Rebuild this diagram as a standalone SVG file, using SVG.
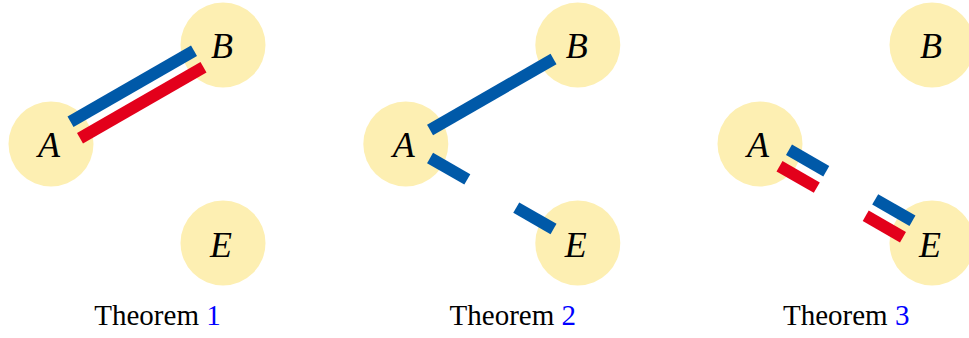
<svg xmlns="http://www.w3.org/2000/svg" width="969" height="338" viewBox="0 0 969 338">
<style>
.node circle{fill:#FDEFB2;stroke:none}
.node text{font-family:"Liberation Serif","Times New Roman",serif;font-style:italic;font-size:36px;fill:#000;text-anchor:middle}
.blue{stroke:#0059A8;stroke-width:12;stroke-linecap:butt;fill:none}
.red{stroke:#E3001B;stroke-width:12;stroke-linecap:butt;fill:none}
.cap{font-family:"Liberation Serif","Times New Roman",serif;font-size:29px;fill:#000;text-anchor:middle}
.num{fill:#0000FF}
</style>
<rect width="969" height="338" fill="#fff"/>
<g id="p1-A" class="node"><circle cx="51" cy="144" r="42.5"/><text x="49" y="157">A</text></g>
<g id="p1-B" class="node"><circle cx="223" cy="45" r="42.5"/><text x="222" y="58">B</text></g>
<g id="p1-E" class="node"><circle cx="223" cy="243" r="42.5"/><text x="221" y="257">E</text></g>
<g id="p2-A" class="node"><circle cx="405.8" cy="144" r="42.5"/><text x="403.8" y="157">A</text></g>
<g id="p2-B" class="node"><circle cx="577.8" cy="45" r="42.5"/><text x="576.8" y="58">B</text></g>
<g id="p2-E" class="node"><circle cx="577.8" cy="243" r="42.5"/><text x="575.8" y="257">E</text></g>
<g id="p3-A" class="node"><circle cx="760" cy="144" r="42.5"/><text x="758" y="157">A</text></g>
<g id="p3-B" class="node"><circle cx="932" cy="45" r="42.5"/><text x="931" y="58">B</text></g>
<g id="p3-E" class="node"><circle cx="932" cy="243" r="42.5"/><text x="930" y="257">E</text></g>
<g id="connectors">
<line class="blue" x1="70.52" y1="121.8" x2="194.02" y2="50.72"/>
<line class="red" x1="80.0" y1="138.26" x2="203.5" y2="67.18"/>
<line class="blue" x1="430.06" y1="130.03" x2="553.52" y2="58.97"/>
<line class="blue" x1="430.06" y1="157.97" x2="467.33" y2="179.41"/>
<line class="blue" x1="516.26" y1="207.58" x2="553.52" y2="229.03"/>
<line class="blue" x1="789.0" y1="149.74" x2="826.27" y2="171.18"/>
<line class="red" x1="779.52" y1="166.2" x2="816.79" y2="187.64"/>
<line class="blue" x1="875.2" y1="199.35" x2="912.46" y2="220.8"/>
<line class="red" x1="865.72" y1="215.81" x2="902.98" y2="237.26"/>
</g>
<g id="captions">
<text class="cap" x="157.5" y="325">Theorem <tspan class="num">1</tspan></text>
<text class="cap" x="512.8" y="325">Theorem <tspan class="num">2</tspan></text>
<text class="cap" x="846.2" y="325">Theorem <tspan class="num">3</tspan></text>
</g>
</svg>
